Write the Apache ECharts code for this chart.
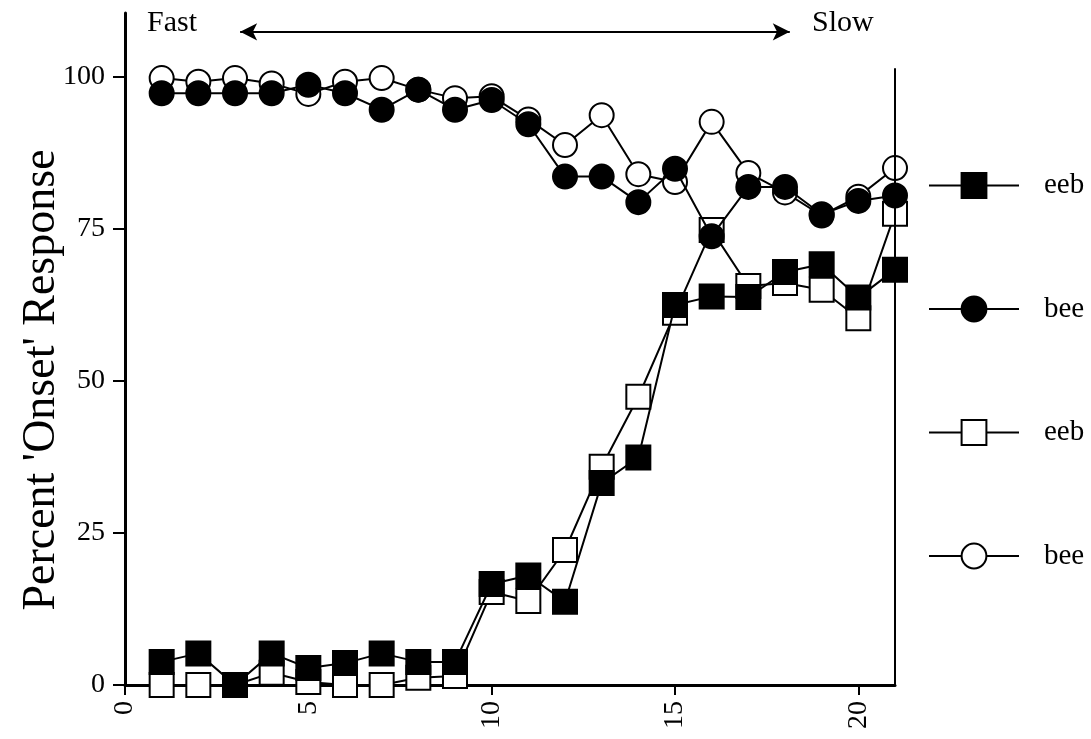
<!DOCTYPE html>
<html>
<head>
<meta charset="utf-8">
<script src="https://cdn.jsdelivr.net/npm/echarts@6/dist/echarts.min.js"></script>
<style>
html,body{margin:0;padding:0;background:#fff;}
#chart{width:1091px;height:739px;}
</style>
</head>
<body>
<div id="chart"></div>
<script>
// Stimulus steps (x)
const steps = [1,2,3,4,5,6,7,8,9,10,11,12,13,14,15,16,17,18,19,20,21];
// Percent 'Onset' Response per series
const eebFilled = [3.8,5.2,0,5.2,2.8,3.6,5.2,3.8,3.8,16.6,18.0,13.7,33.2,37.4,62.5,63.9,63.8,67.9,69.2,63.7,68.3];
const beeFilled = [97.3,97.3,97.3,97.3,98.7,97.3,94.6,97.9,94.6,96.2,92.2,83.6,83.6,79.4,84.9,73.8,81.9,81.9,77.4,79.6,80.5];
const eebOpen   = [0,0,0,2.0,0.5,0,0,1.2,1.5,15.3,13.8,22.2,35.9,47.4,61.2,74.8,65.6,66.1,65.0,60.3,77.5];
const beeOpen   = [99.8,99.2,99.8,98.9,97.2,99.2,99.8,97.9,96.5,96.8,93.0,88.8,93.7,84.0,82.7,92.6,84.2,81.0,77.2,80.3,85.0];
// Tick labels
const xTicks = [0,5,10,15,20];
const yTicks = [0,25,50,75,100];
// Legend labels (trailing space keeps duplicate names distinct)
const legendNames = ['eeb','bee','eeb ','bee '];
// Annotation
const arrowRange = [3.14, 18.13];
const arrowLevel = 107.4;
const rightEdge = [21, 0, 101.4];

const FONT = 'Liberation Serif, Times New Roman, serif';
const pair = arr => steps.map((x,i)=>[x,arr[i]]);

function mkSeries(name, data, symbol, fill, z){
  return {
    name, type:'line', data:pair(data), symbol, symbolSize:24, z,
    lineStyle:{color:'#000',width:2},
    itemStyle:{color:fill,borderColor:'#000',borderWidth:2},
    emphasis:{disabled:true}, animation:false, clip:false
  };
}

const series = [
  mkSeries(legendNames[3], beeOpen, 'circle', '#fff', 2),
  mkSeries(legendNames[2], eebOpen, 'rect', '#fff', 3),
  mkSeries(legendNames[1], beeFilled, 'circle', '#000', 4),
  mkSeries(legendNames[0], eebFilled, 'rect', '#000', 5)
];
series[3].markLine = {
  silent:true, animation:false,
  label:{show:false},
  symbolSize:[13,17],
  lineStyle:{color:'#000',width:2,type:'solid'},
  emphasis:{disabled:true},
  data:[
    [{coord:[rightEdge[0],rightEdge[1]],symbol:'none'},{coord:[rightEdge[0],rightEdge[2]],symbol:'none'}],
    [{coord:[arrowRange[0],arrowLevel],symbol:'arrow'},{coord:[arrowRange[1],arrowLevel],symbol:'arrow'}]
  ]
};

const chart = echarts.init(document.getElementById('chart'), null, {renderer:'canvas'});
chart.setOption({
  animation:false,
  backgroundColor:'#fff',
  textStyle:{fontFamily:FONT,color:'#000'},
  grid:{left:125,right:196,top:13,bottom:54,containLabel:false,outerBoundsMode:'none'},
  xAxis:{
    type:'value', min:0, max:21,
    axisLine:{show:true,onZero:false,lineStyle:{color:'#000',width:3}},
    axisTick:{show:true,length:10,lineStyle:{color:'#000',width:2},customValues:xTicks},
    axisLabel:{rotate:90,margin:16,fontSize:28,fontFamily:FONT,color:'#000',customValues:xTicks},
    splitLine:{show:false}
  },
  yAxis:{
    type:'value', min:0, max:110.5,
    name:"Percent 'Onset' Response", nameLocation:'middle', nameGap:60, nameMoveOverlap:false,
    nameTextStyle:{fontSize:46,fontFamily:FONT,color:'#000',padding:[0,62,0,0]},
    axisLine:{show:true,onZero:false,lineStyle:{color:'#000',width:3}},
    axisTick:{show:true,length:12,lineStyle:{color:'#000',width:2},customValues:yTicks},
    axisLabel:{margin:20,fontSize:28,fontFamily:FONT,color:'#000',customValues:yTicks},
    splitLine:{show:false}
  },
  legend:{
    data:legendNames, orient:'vertical', left:923, top:166,
    itemWidth:90, itemHeight:31, itemGap:94.5,
    selectedMode:false,
    formatter:n=>n.trim(),
    textStyle:{fontSize:29,fontFamily:FONT,color:'#000',padding:[0,0,0,20]}
  },
  graphic:[
    {type:'text',left:147,top:8,style:{text:'Fast',font:'30px '+FONT,fill:'#000'}},
    {type:'text',left:812,top:8,style:{text:'Slow',font:'30px '+FONT,fill:'#000'}}
  ],
  series
});
</script>
</body>
</html>
